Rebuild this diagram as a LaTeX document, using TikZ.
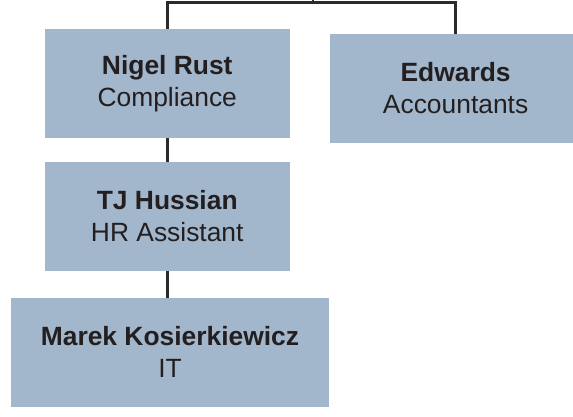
\documentclass[tikz,border=0pt]{standalone}
\usepackage{fontspec}
\setmainfont{Liberation Sans}
\usetikzlibrary{positioning}
\definecolor{boxfill}{RGB}{162,183,203}
\definecolor{linkgray}{RGB}{43,43,43}
\definecolor{textgray}{RGB}{35,31,32}
\tikzset{staffbox/.style={fill=boxfill,text=textgray,align=center,inner sep=0pt,
                          minimum height=108.6pt,font=\fontsize{26.4}{32}\selectfont},
         link/.style={draw=linkgray,line width=2.5pt}}

\begin{document}
\begin{tikzpicture}[x=1pt,y=1pt]
        \useasboundingbox (0,0) rectangle (573,416);
        \node[staffbox, minimum width=244.5pt](nigel)at(167.25,332.75){\textbf{Nigel Rust}\\Compliance};
        \node[staffbox, minimum width=252pt](edwards)at(455.6,327.65){\textbf{Edwards}\\Accountants};
        \node[staffbox, minimum width=244.5pt](tj)at(167.25,199.65){\textbf{TJ Hussian}\\HR Assistant};
        \node[staffbox, minimum width=317.4pt](marek)at(170,63.65){\textbf{Marek Kosierkiewicz}\\IT};
        \coordinate(root)at(313,420);
        \coordinate(bar)at(313,413.7);

        \draw[link](root)--(bar);
        \draw[link](nigel.north)|-(bar)-|(edwards.north);
        \draw[link](nigel.south)--(tj.north);
        \draw[link](tj.south)--(tj.south|-marek.north);
    \end{tikzpicture}
\end{document}
